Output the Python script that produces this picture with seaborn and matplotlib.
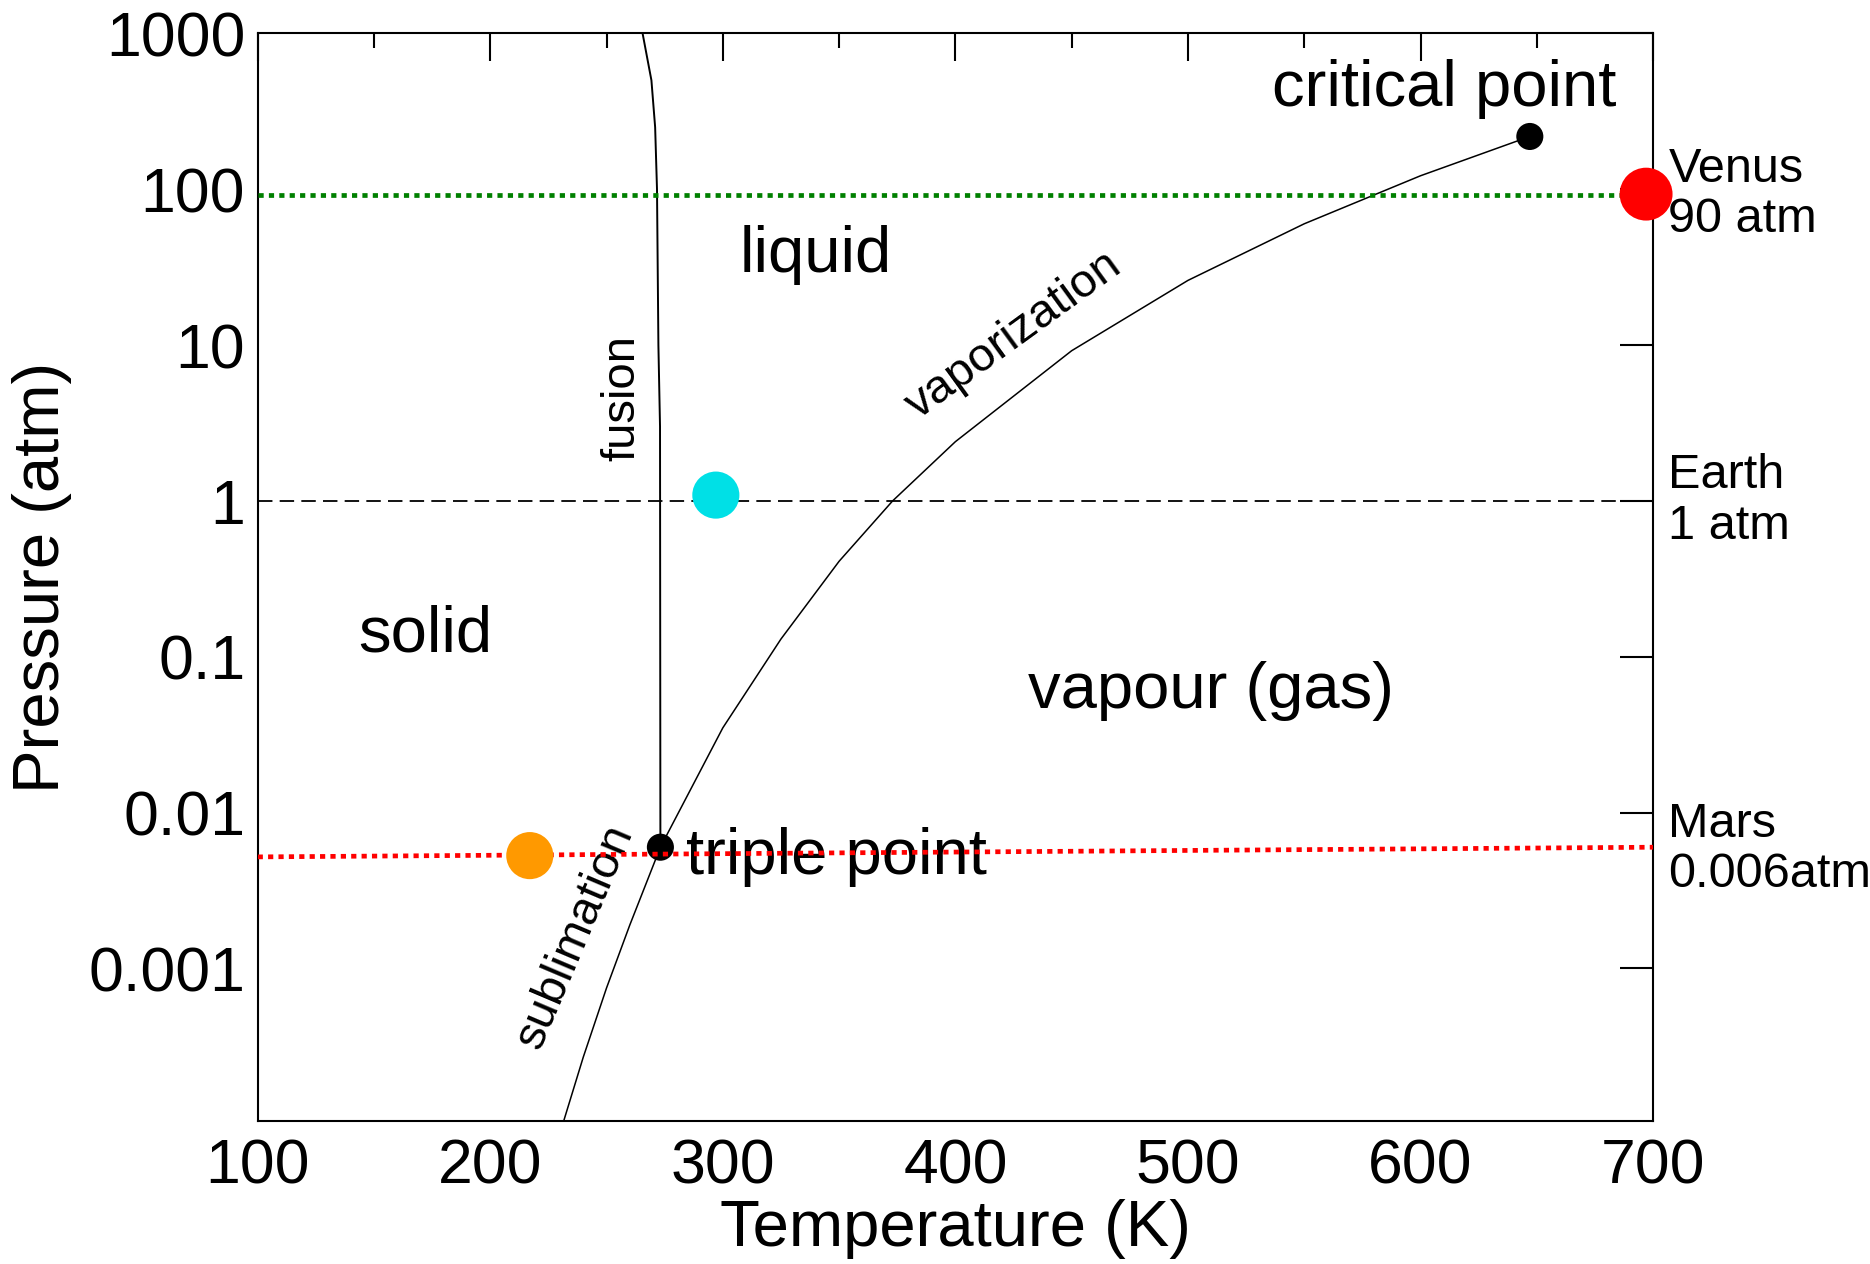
import matplotlib
matplotlib.use("Agg")
import matplotlib.pyplot as plt
import seaborn as sns
from matplotlib.ticker import FixedLocator, NullLocator, MultipleLocator

# phase boundaries of water (T in K, P in atm)
fusion_T = [273.16, 273.0, 272.3, 271.7, 270.9, 269.3, 265.5]
fusion_P = [0.006, 3.0, 10.0, 100.0, 250.0, 500.0, 1000.0]

vap_T = [273.16, 300, 325, 350, 373, 400, 450, 500, 550, 600, 647]
vap_P = [0.006, 0.035, 0.13, 0.41, 1.0, 2.4, 9.2, 26.0, 60.0, 122.0, 218.0]

sub_T = [230, 240, 250, 260, 273.16]
sub_P = [0.000088, 0.00027, 0.00075, 0.0019, 0.006]

# special points
triple_T, triple_P = 273.16, 0.006
critical_T, critical_P = 647, 218

# planets: surface conditions
planet_names = ["Venus", "Earth", "Mars"]
planet_T = [697, 297, 217]
planet_P = [93, 1.09, 0.0053]
planet_colors = ["#ff0000", "#00e0e6", "#ff9900"]
planet_sizes = [1450, 1150, 1150]
planet_labels = ["Venus\n90 atm", "Earth\n1 atm", "Mars\n0.006atm"]
label_P = [93, 1.0, 0.0058]

# pressure reference lines
venus_line_T, venus_line_P = [100, 697], [92, 92]
earth_line_T, earth_line_P = [100, 700], [1, 1]
mars_line_T, mars_line_P = [100, 700], [0.0052, 0.0060]

y_ticks = [0.001, 0.01, 0.1, 1, 10, 100, 1000]
y_ticklabels = ["0.001", "0.01", "0.1", "1", "10", "100", "1000"]
x_ticks = [100, 200, 300, 400, 500, 600, 700]

sns.set_style("white")
plt.rcParams["font.family"] = ["Liberation Sans", "DejaVu Sans"]
plt.rcParams["text.color"] = "black"
plt.rcParams["axes.labelcolor"] = "black"
plt.rcParams["xtick.color"] = "black"
plt.rcParams["ytick.color"] = "black"

fig, ax = plt.subplots(figsize=(18.7, 12.64), dpi=100)
fig.subplots_adjust(left=0.1378, right=0.884, top=0.9736, bottom=0.1131)

# phase boundary curves
sns.lineplot(x=fusion_T, y=fusion_P, sort=False, estimator=None, color="black", lw=1.4, ax=ax)
sns.lineplot(x=vap_T, y=vap_P, sort=False, estimator=None, color="black", lw=1.1, ax=ax)
sns.lineplot(x=sub_T, y=sub_P, sort=False, estimator=None, color="black", lw=1.1, ax=ax)

# triple and critical point
sns.scatterplot(x=[triple_T, critical_T], y=[triple_P, critical_P], color="black",
                s=380, edgecolor="none", ax=ax, zorder=4)

# planet reference lines
sns.lineplot(x=earth_line_T, y=earth_line_P, color="black", lw=1.3, ax=ax, zorder=3)
ax.lines[-1].set_linestyle((0, (8, 4)))
sns.lineplot(x=venus_line_T, y=venus_line_P, color="green", lw=3.4, ax=ax, zorder=5)
ax.lines[-1].set_linestyle((0, (1.1, 1.1)))
sns.lineplot(x=mars_line_T, y=mars_line_P, color="red", lw=3.4, ax=ax, zorder=5)
ax.lines[-1].set_linestyle((0, (1.1, 1.1)))

# planet markers
for T, P, c, s in zip(planet_T, planet_P, planet_colors, planet_sizes):
    sns.scatterplot(x=[T], y=[P], color=c, s=s, edgecolor="none", ax=ax,
                    zorder=6, clip_on=False)

ax.set_yscale("log")
ax.set_xlim(100, 700)
ax.set_ylim(1.05e-4, 1000)

# region labels
big = 47
small = 34
ax.text(340, 38, "liquid", fontsize=big, ha="center", va="center")
ax.text(172, 0.14, "solid", fontsize=big, ha="center", va="center")
ax.text(510, 0.060, "vapour (gas)", fontsize=big, ha="center", va="center")
ax.text(610, 440, "critical point", fontsize=big, ha="center", va="center")
ax.text(284, 0.0052, "triple point", fontsize=big, ha="left", va="center", zorder=4)
ax.text(257, 4.6, "fusion", fontsize=small, ha="center", va="center", rotation=90)
ax.text(425, 11.5, "vaporization", fontsize=small, ha="center", va="center", rotation=36)
ax.text(236.5, 0.0016, "sublimation", fontsize=small, ha="center", va="center", rotation=67)

# planet labels outside the axes
for lab, P in zip(planet_labels, label_P):
    ax.annotate(lab, xy=(1, P), xycoords=("axes fraction", "data"),
                xytext=(11, 0), textcoords="offset points",
                fontsize=35, ha="left", va="center", linespacing=1.15,
                annotation_clip=False)

# axes, ticks
ax.yaxis.set_major_locator(FixedLocator(y_ticks))
ax.yaxis.set_minor_locator(NullLocator())
ax.set_yticklabels(y_ticklabels)
ax.xaxis.set_major_locator(FixedLocator(x_ticks))
ax.xaxis.set_minor_locator(MultipleLocator(50))
ax.tick_params(axis="both", which="both", direction="in", top=True, right=True,
               width=1.5, labelsize=45, color="black")
ax.tick_params(axis="x", which="major", length=20, pad=12)
ax.tick_params(axis="x", which="minor", length=11)
ax.tick_params(axis="y", which="major", length=24, pad=9)
for sp in ax.spines.values():
    sp.set_linewidth(1.5)
    sp.set_color("black")

ax.set_xlabel("Temperature (K)", fontsize=47, labelpad=2)
ax.set_ylabel("Pressure (atm)", fontsize=47, labelpad=12)

fig.savefig("out.png", dpi=100)
